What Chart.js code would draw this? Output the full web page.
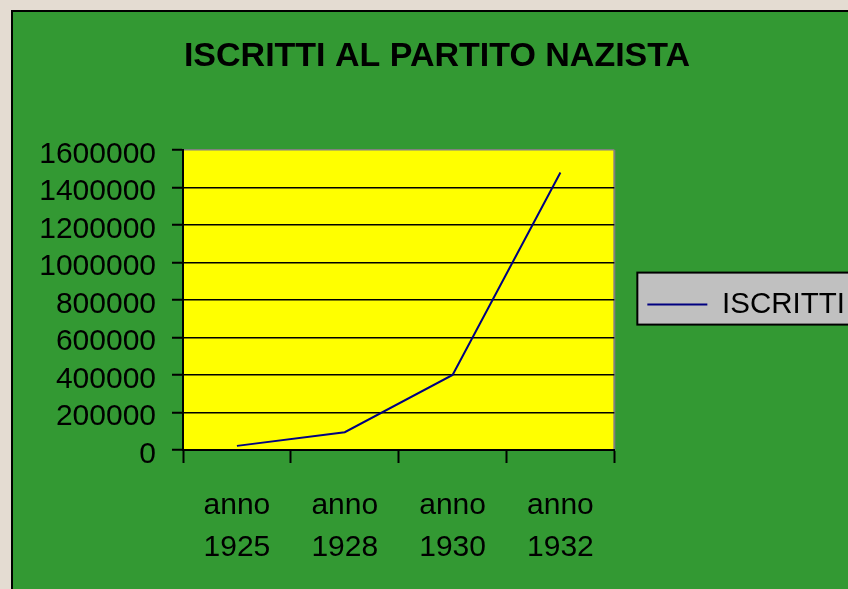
<!DOCTYPE html>
<html>
<head>
<meta charset="utf-8">
<script src="https://cdn.jsdelivr.net/npm/chart.js@4/dist/chart.umd.min.js"></script>
<style>
  html, body { margin: 0; padding: 0; width: 848px; height: 589px; overflow: hidden;
    background: #e4dcd2; }
  #frame { position: absolute; left: 11px; top: 10px; width: 860px; height: 600px;
    border-left: 2px solid #000; border-top: 2px solid #000; background: #339933; overflow: hidden; }
  canvas { display: block; }
</style>
</head>
<body>
<div id="frame"><canvas id="c" width="842" height="577"></canvas></div>
<script>
// ---- data ----
const title = 'ISCRITTI AL PARTITO NAZISTA';
const years = ['1925', '1928', '1930', '1932'];
const prefix = 'anno';
const seriesName = 'ISCRITTI';
const iscritti = [22000, 95000, 400000, 1480000];
const yMin = 0, yMax = 1600000, yStep = 200000;

const FONT = "'Liberation Sans', Arial, sans-serif";

const plotBg = {
  id: 'plotBg',
  beforeDraw(chart) {
    const {ctx, chartArea: a} = chart;
    ctx.save();
    ctx.fillStyle = '#ffff00';
    ctx.fillRect(a.left, a.top, a.right - a.left, a.bottom - a.top);
    ctx.strokeStyle = '#808080';
    ctx.lineWidth = 2;
    ctx.beginPath();
    ctx.moveTo(a.right, a.top);
    ctx.lineTo(a.right, a.bottom);
    ctx.stroke();
    // legend frame
    const lg = chart.legend;
    if (lg && lg.legendHitBoxes && lg.legendHitBoxes.length) {
      const hb = lg.legendHitBoxes[0];
      const cy = hb.top + hb.height / 2;
      const x0 = hb.left - 10;
      ctx.fillStyle = '#c0c0c0';
      ctx.fillRect(x0, cy - 32, 400, 52);
      ctx.strokeStyle = '#000';
      ctx.lineWidth = 2;
      ctx.strokeRect(x0, cy - 32, 400, 52);
    }
    ctx.restore();
  }
};

new Chart(document.getElementById('c'), {
  type: 'line',
  data: {
    labels: years.map(y => [prefix, y]),
    datasets: [{
      label: seriesName,
      data: iscritti,
      borderColor: '#000080',
      backgroundColor: '#000080',
      borderWidth: 2,
      pointRadius: 0,
      pointHoverRadius: 0,
      tension: 0,
      fill: false
    }]
  },
  options: {
    responsive: false,
    animation: false,
    events: [],
    layout: { padding: { left: 6, right: 0, top: 0, bottom: 0 } },
    plugins: {
      title: {
        display: true,
        text: title,
        color: '#000',
        font: { family: FONT, size: 34, weight: 'bold', lineHeight: 1.2 },
        padding: { top: 24.6, bottom: 72.6 }
      },
      legend: {
        display: true,
        position: 'right',
        fullSize: false,
        maxWidth: 320,
        title: {
          display: true,
          text: ' ',
          color: 'rgba(0,0,0,0)',
          font: { family: FONT, size: 1, lineHeight: 1.2 },
          padding: { top: 0, bottom: 8 }
        },
        labels: {
          usePointStyle: true,
          pointStyle: 'line',
          pointStyleWidth: 60,
          padding: 33,
          color: '#000',
          font: { family: FONT, size: 29.5 }
        }
      },
      tooltip: { enabled: false }
    },
    scales: {
      x: {
        type: 'category',
        offset: true,
        afterFit(scale) { scale.height = 139; },
        grid: {
          offset: true,
          drawOnChartArea: false,
          drawTicks: true,
          tickLength: 13,
          tickColor: '#000',
          tickWidth: 2,
          color: '#000'
        },
        border: { display: true, color: '#000', width: 2 },
        ticks: {
          color: '#000',
          font: { family: FONT, size: 30, lineHeight: 1.4 },
          padding: 22,
          maxRotation: 0,
          minRotation: 0,
          autoSkip: false
        }
      },
      y: {
        min: yMin,
        max: yMax,
        afterFit(scale) { scale.width = 164; },
        grid: {
          color: ctx => (ctx.tick && ctx.tick.value === yMax) ? '#808080' : '#000',
          lineWidth: 1.5,
          drawTicks: true,
          tickLength: 11,
          tickColor: '#000',
          tickWidth: 2
        },
        border: { display: true, color: '#000', width: 2 },
        ticks: {
          stepSize: yStep,
          autoSkip: false,
          color: '#000',
          padding: 16,
          font: { family: FONT, size: 30, lineHeight: 0.3 },
          callback: v => ['', String(v)]
        }
      }
    }
  },
  plugins: [plotBg]
});
</script>
</body>
</html>
